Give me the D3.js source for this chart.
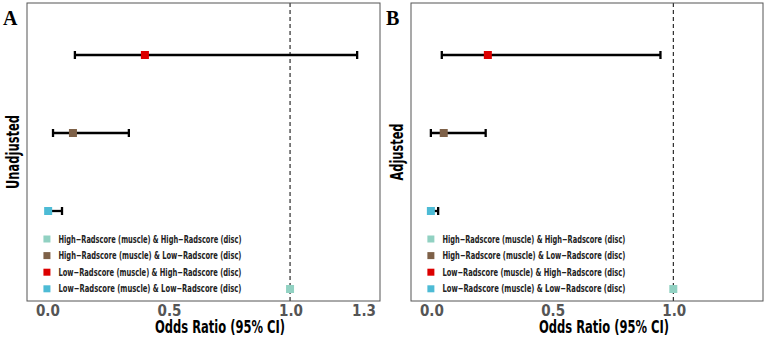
<!DOCTYPE html>
<html>
<head>
<meta charset="utf-8">
<script src="https://cdn.jsdelivr.net/npm/d3@7"></script>
<style>
  body { margin: 0; background: #fff; }
  svg { display: block; }
  .cond { font-family: "Liberation Sans Narrow", "DejaVu Sans Condensed", "Roboto", sans-serif; }
</style>
</head>
<body>
<div id="chart"></div>
<script>
/*------ data ------*/

// legend order (as in the key)
var groups = [
  "High−Radscore (muscle) & High−Radscore (disc)",
  "High−Radscore (muscle) & Low−Radscore (disc)",
  "Low−Radscore (muscle) & High−Radscore (disc)",
  "Low−Radscore (muscle) & Low−Radscore (disc)"
];
// order of the rows from top to bottom
var rowOrder = [groups[2], groups[1], groups[3], groups[0]];

var groupColors = ["#91D1C2", "#7E6148", "#DC0000", "#4DBBD5"];

// panel A : unadjusted
var unadjOR    = [1.0, 0.107, 0.403, 0.005];
var unadjLower = [null, 0.025, 0.115, 0.0];
var unadjUpper = [null, 0.337, 1.276, 0.062];

// panel B : adjusted
var adjOR    = [1.0, 0.053, 0.235, 0.0];
var adjLower = [null, 0.0, 0.045, -0.01];
var adjUpper = [null, 0.226, 0.947, 0.03];

var ticksA = [0, 0.5, 1.0, 1.3];
var ticksB = [0, 0.5, 1.0];

/*------ canvas ------*/
var width = 767, height = 337;
var svg = d3.select("#chart").append("svg")
    .attr("width", width)
    .attr("height", height);

var plotTop = 3, plotBottom = 301;
var xDomain = [-0.082, 1.37];

function drawPanel(opt) {
  var x = d3.scaleLinear().domain(xDomain).range([opt.left, opt.right]);
  var y = d3.scalePoint().domain(rowOrder).range([plotTop + 52, plotBottom - 12]);
  var color = d3.scaleOrdinal().domain(groups).range(groupColors);

  var rows = groups.map(function(g, i) {
    return { group: g, or: opt.or[i], lo: opt.lo[i], hi: opt.hi[i] };
  });

  var g = svg.append("g");

  // reference line at OR = 1
  g.append("line")
    .attr("x1", x(1)).attr("x2", x(1))
    .attr("y1", plotTop).attr("y2", plotBottom)
    .attr("stroke", "#000")
    .attr("stroke-width", 1)
    .attr("stroke-dasharray", "4,3");

  // error bars
  var ci = rows.filter(function(d) { return d.lo != null; });
  g.selectAll(".ci").data(ci).enter().append("line")
    .attr("x1", function(d) { return x(d.lo); })
    .attr("x2", function(d) { return x(d.hi); })
    .attr("y1", function(d) { return y(d.group); })
    .attr("y2", function(d) { return y(d.group); })
    .attr("stroke", "#000").attr("stroke-width", 2.3);
  ["lo", "hi"].forEach(function(k) {
    g.selectAll(".cap" + k).data(ci).enter().append("line")
      .attr("x1", function(d) { return x(d[k]); })
      .attr("x2", function(d) { return x(d[k]); })
      .attr("y1", function(d) { return y(d.group) - 4; })
      .attr("y2", function(d) { return y(d.group) + 4; })
      .attr("stroke", "#000").attr("stroke-width", 2.3);
  });

  // points
  g.selectAll(".pt").data(rows).enter().append("rect")
    .attr("x", function(d) { return x(d.or) - 4; })
    .attr("y", function(d) { return y(d.group) - 4; })
    .attr("width", 8).attr("height", 8)
    .attr("fill", function(d) { return color(d.group); });

  // legend (inside, lower left)
  var leg = g.selectAll(".leg").data(groups).enter().append("g")
    .attr("transform", function(d, i) {
      return "translate(" + (x(0) - 3.5) + "," + (239 + i * 16.6) + ")";
    });
  leg.append("rect")
    .attr("x", 0).attr("y", -3.5)
    .attr("width", 7).attr("height", 7)
    .attr("fill", function(d) { return color(d); });
  leg.append("text")
    .attr("class", "cond")
    .attr("x", 15).attr("y", 3.5)
    .attr("font-size", "10.5px")
    .attr("font-weight", "bold")
    .attr("fill", "#222")
    .attr("textLength", 183)
    .attr("lengthAdjust", "spacingAndGlyphs")
    .text(function(d) { return d; });

  // frame
  g.append("rect")
    .attr("x", opt.left).attr("y", plotTop)
    .attr("width", opt.right - opt.left).attr("height", plotBottom - plotTop)
    .attr("fill", "none")
    .attr("stroke", "#555").attr("stroke-width", 1);

  // x tick labels
  g.selectAll(".tick").data(opt.ticks).enter().append("text")
    .attr("class", "cond")
    .attr("x", function(d) { return x(d) + 1; })
    .attr("y", 316)
    .attr("text-anchor", "middle")
    .attr("font-size", "15px")
    .attr("font-weight", "bold")
    .attr("fill", "#555")
    .text(d3.format(".1f"));

  // x title
  g.append("text")
    .attr("class", "cond")
    .attr("x", opt.left + 193)
    .attr("y", 333)
    .attr("text-anchor", "middle")
    .attr("font-size", "17px")
    .attr("font-weight", "bold")
    .attr("fill", "#000")
    .attr("textLength", 130)
    .attr("lengthAdjust", "spacingAndGlyphs")
    .text("Odds Ratio (95% CI)");

  // y title
  g.append("text")
    .attr("class", "cond")
    .attr("transform", "translate(" + (opt.left - 8) + "," + ((plotTop + plotBottom) / 2) + ") rotate(-90)")
    .attr("text-anchor", "middle")
    .attr("font-size", "17px")
    .attr("font-weight", "bold")
    .attr("fill", "#000")
    .attr("textLength", opt.yLen)
    .attr("lengthAdjust", "spacingAndGlyphs")
    .text(opt.yTitle);

  // panel letter
  svg.append("text")
    .attr("x", opt.letterX).attr("y", 25)
    .attr("font-family", "Liberation Serif, Times New Roman, serif")
    .attr("font-weight", "bold")
    .attr("font-size", "20px")
    .attr("fill", "#000")
    .text(opt.letter);
}

drawPanel({ left: 27, right: 380, or: unadjOR, lo: unadjLower, hi: unadjUpper,
            ticks: ticksA, yTitle: "Unadjusted", yLen: 74, letter: "A", letterX: 3 });
drawPanel({ left: 411, right: 763, or: adjOR, lo: adjLower, hi: adjUpper,
            ticks: ticksB, yTitle: "Adjusted", yLen: 57, letter: "B", letterX: 386 });
</script>
</body>
</html>
